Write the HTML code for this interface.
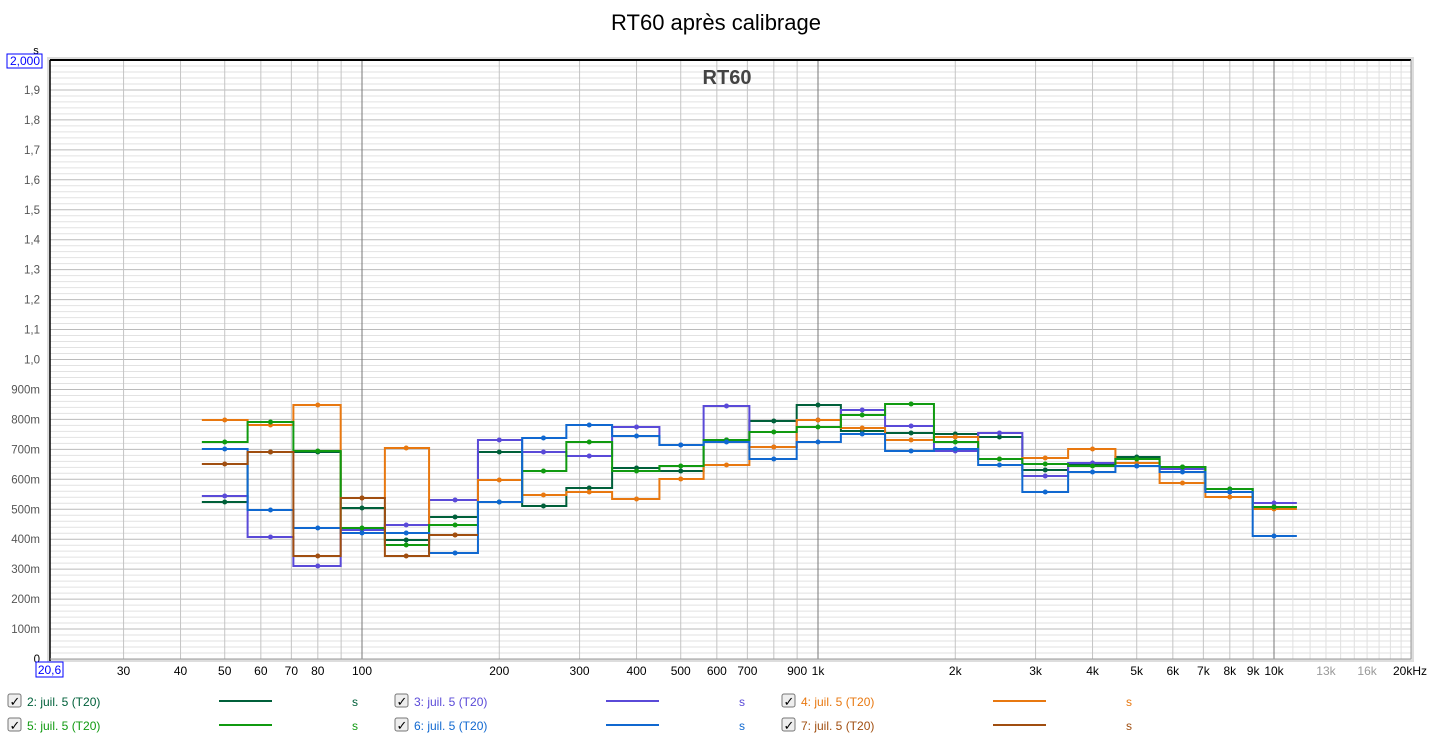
<!DOCTYPE html>
<html><head><meta charset="utf-8">
<style>
body{margin:0;background:#fff;width:1433px;height:740px;overflow:hidden;font-family:"Liberation Sans",sans-serif}
svg{position:absolute;left:0;top:0}
</style></head>
<body>
<svg id="s" width="1433" height="740" xmlns="http://www.w3.org/2000/svg" font-family="Liberation Sans, sans-serif"></svg>
<script>
const S=document.getElementById('s');let h='';
const X=f=>362+456*Math.log10(f/100);
const L=50,R=1411,T=60,B=659;
const Y=v=>B-(v)*(B-T)/2;
h+=`<text x="716" y="30" font-size="22" text-anchor="middle" fill="#000">RT60 après calibrage</text>`;
h+=`<rect x="${L-3}" y="${T-3}" width="${R-L+6}" height="${B-T+6}" fill="#ddd"/>`;
h+=`<rect x="${L}" y="${T}" width="${R-L}" height="${B-T}" fill="#fff"/>`;
// horizontal grid
for(let i=1;i<100;i++){const y=Y(i*0.02);h+=`<line x1="${L}" x2="${R}" y1="${y}" y2="${y}" stroke="${i%5==0?'#bbb':'#e2e2e2'}" stroke-width="1"/>`;}
// vertical grid
const vf=[];for(let f=30;f<=100;f+=10)vf.push(f);for(let f=200;f<=1000;f+=100)vf.push(f);for(let f=2000;f<=10000;f+=1000)vf.push(f);
for(let f=25;f<100;f+=10);
for(const f of vf){const x=X(f);const d=(f==100||f==1000||f==10000);h+=`<line x1="${x}" x2="${x}" y1="${T}" y2="${B}" stroke="${d?'#777':'#c4c4c4'}"/>`;}
for(let f=11000;f<20000;f+=1000){const x=X(f);h+=`<line x1="${x}" x2="${x}" y1="${T}" y2="${B}" stroke="#e0e0e0"/>`;}
h+=`<line x1="${L}" x2="${R}" y1="${T}" y2="${T}" stroke="#000" stroke-width="2"/>`;
h+=`<line x1="${L}" x2="${L}" y1="${T}" y2="${B+2}" stroke="#000" stroke-width="1.5"/>`;
h+=`<line x1="${R}" x2="${R}" y1="${T}" y2="${B}" stroke="#999"/>`;
h+=`<line x1="${L}" x2="${R}" y1="${B}" y2="${B}" stroke="#999"/>`;
h+=`<text x="727" y="84" font-size="20" font-weight="bold" text-anchor="middle" fill="#444">RT60</text>`;
// y labels
h+=`<text x="36" y="54" font-size="11" text-anchor="middle" fill="#000">s</text>`;
h+=`<rect x="7" y="54" width="35" height="14" fill="#fff" stroke="#00f"/><text x="40" y="65" font-size="12" text-anchor="end" fill="#00f">2,000</text>`;
const yl=['0','100m','200m','300m','400m','500m','600m','700m','800m','900m','1,0','1,1','1,2','1,3','1,4','1,5','1,6','1,7','1,8','1,9'];
yl.forEach((t,i)=>{h+=`<text x="40" y="${Y(i*0.1)+4}" font-size="11.5" text-anchor="end" fill="${i==0?'#000':'#555'}">${t}</text>`;});
// x labels
const xl=[[30,'30'],[40,'40'],[50,'50'],[60,'60'],[70,'70'],[80,'80'],[100,'100'],[200,'200'],[300,'300'],[400,'400'],[500,'500'],[600,'600'],[700,'700'],[900,'900'],[1000,'1k'],[2000,'2k'],[3000,'3k'],[4000,'4k'],[5000,'5k'],[6000,'6k'],[7000,'7k'],[8000,'8k'],[9000,'9k'],[10000,'10k'],[13000,'13k'],[16000,'16k']];
for(const [f,t] of xl){h+=`<text x="${X(f)}" y="675" font-size="12" text-anchor="middle" fill="${f>10000?'#999':'#000'}">${t}</text>`;}
h+=`<text x="1410" y="675" font-size="12" text-anchor="middle" fill="#000">20kHz</text>`;
h+=`<rect x="36" y="662" width="27" height="15" fill="#fff" stroke="#00f"/><text x="49.5" y="674" font-size="12" text-anchor="middle" fill="#00f">20,6</text>`;
// series
const fc=[50,63,80,100,125,160,200,250,315,400,500,630,800,1000,1250,1600,2000,2500,3150,4000,5000,6300,8000,10000];
const ser=[
['#00603a',[502,452,452,508,540,517,452,506,488,468,471,440,421,405,431,433,434,437,470,465,457,467,489,507]],
['#5a4ad8',[496,537,566,530,525,500,440,452,456,427,445,406,447,420,410,426,451,433,476,463,466,469,492,503]],
['#e87810',[420,425,405,498,448,535,480,495,492,499,479,465,447,420,428,440,437,459,458,449,463,483,497,509]],
['#109a10',[442,422,451,528,545,525,502,471,442,471,466,440,432,427,415,404,442,459,464,466,459,467,489,507]],
['#1068d0',[449,510,528,533,533,553,502,438,425,436,445,442,459,442,434,451,449,465,492,472,466,472,492,536]],
['#a04e10',[464,452,556,498,556,535]]];
const r=Math.pow(2,1/6);
for(const [c,v] of ser){let d='';v.forEach((y,i)=>{const f=fc[i];const x0=X(f/r),x1=X(f*r);d+=(i==0?`M${x0} ${y}`:`V${y}`)+`H${x1}`;});
h+=`<path d="${d}" fill="none" stroke="${c}" stroke-width="2"/>`;
v.forEach((y,i)=>{h+=`<circle cx="${X(fc[i])}" cy="${y}" r="2.5" fill="${c}"/>`;});}
// legend
const lg=[[8,701,'2: juil. 5 (T20)','#00603a'],[395,701,'3: juil. 5 (T20)','#5a4ad8'],[782,701,'4: juil. 5 (T20)','#e87810'],[8,725,'5: juil. 5 (T20)','#109a10'],[395,725,'6: juil. 5 (T20)','#1068d0'],[782,725,'7: juil. 5 (T20)','#a04e10']];
for(const [x,y,t,c] of lg){
h+=`<rect x="${x}" y="${y-7}" width="13" height="13" rx="2" fill="#eee" stroke="#777"/><text x="${x+1.5}" y="${y+5}" font-size="13" fill="#000">✓</text>`;
h+=`<text x="${x+19}" y="${y+5}" font-size="12" fill="${c}">${t}</text>`;
h+=`<line x1="${x+211}" x2="${x+264}" y1="${y}" y2="${y}" stroke="${c}" stroke-width="2"/>`;
h+=`<text x="${x+344}" y="${y+5}" font-size="12" fill="${c}">s</text>`;}
S.innerHTML=h;
</script>
</body></html>
